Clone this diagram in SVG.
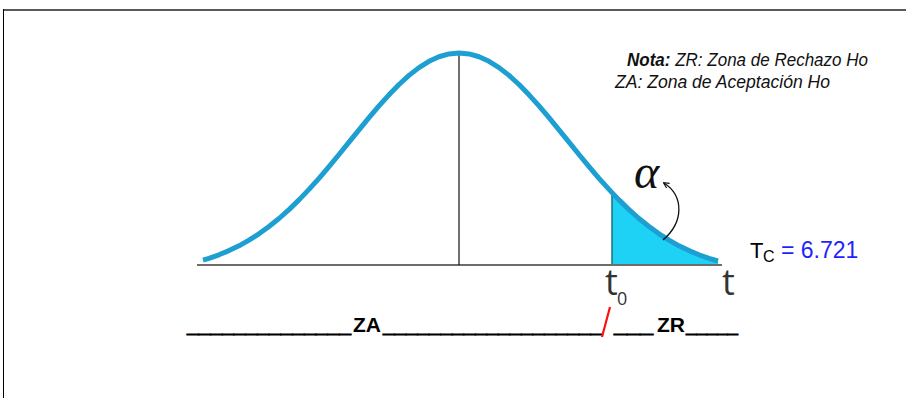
<svg xmlns="http://www.w3.org/2000/svg" width="906" height="398" viewBox="0 0 906 398">
<style>
.sans{font-family:"Liberation Sans",Arial,sans-serif}
.note{font-family:"Liberation Sans",Arial,sans-serif;font-size:18px;font-style:italic;fill:#111}
.tl{font-family:"Open Sans","Liberation Sans",sans-serif;fill:#333}
.bot{font-family:"Liberation Sans",Arial,sans-serif;font-size:21px;font-weight:bold;fill:#000}
.us{stroke:#000;stroke-width:1}
</style>
<defs>
<marker id="ah" viewBox="0 0 10 10" refX="8" refY="5" markerWidth="7" markerHeight="7" orient="auto-start-reverse" markerUnits="userSpaceOnUse">
<path d="M1,1 L9,5 L1,9" fill="none" stroke="#111" stroke-width="1.6"/>
</marker>
</defs>
<rect width="906" height="398" fill="#fff"/>
<g id="frame">
<line x1="3" y1="10" x2="906" y2="10" stroke="#5a5a5a" stroke-width="2"/>
<line x1="3.5" y1="9" x2="3.5" y2="398" stroke="#000" stroke-width="1"/>
</g>
<g id="shade">
<path d="M612,192.6 L619,199.9 L629,209.6 L639,218.5 L649,226.5 L659,233.8 L669,240.1 L679,245.8 L689,250.6 L699,254.8 L709,258.3 L718,261 L718,265 L612,265 Z" fill="#1dd2f4"/>
<line x1="612" y1="193" x2="612" y2="265" stroke="#1d6f7c" stroke-width="1.5"/>
</g>
<g id="axis">
<line x1="197" y1="265" x2="722" y2="265" stroke="#6d6d6d" stroke-width="2"/>
<line x1="459" y1="54" x2="459" y2="265" stroke="#111" stroke-width="1.2"/>
</g>
<g id="curve">
<path d="M203,260.1 L209,258.3 L219,254.8 L229,250.6 L239,245.8 L249,240.1 L259,233.8 L269,226.5 L279,218.5 L289,209.6 L299,199.9 L309,189.4 L319,178.3 L329,166.6 L339,154.5 L349,142.2 L359,129.9 L369,117.7 L379,105.9 L389,94.8 L399,84.5 L409,75.4 L419,67.6 L429,61.3 L439,56.75 L449,53.9 L459,53 L469,53.9 L479,56.75 L489,61.3 L499,67.6 L509,75.4 L519,84.5 L529,94.8 L539,105.9 L549,117.7 L559,129.9 L569,142.2 L579,154.5 L589,166.6 L599,178.3 L609,189.4 L612,192.6 L619,199.9 L629,209.6 L639,218.5 L649,226.5 L659,233.8 L669,240.1 L679,245.8 L689,250.6 L699,254.8 L709,258.3 L718,261" fill="none" stroke="#1e9fd2" stroke-width="5" stroke-linejoin="round"/>
</g>
<g id="connectors">
<path d="M663,240 C684,222 684,196 664,183" fill="none" stroke="#111" stroke-width="1.3" marker-end="url(#ah)"/>
</g>
<g id="alpha">
<text x="634" y="188" font-family="'Liberation Serif','Times New Roman',serif" font-style="italic" font-size="48" fill="#111">α</text>
</g>
<g id="note">
<text class="note" x="627" y="66" textLength="241" lengthAdjust="spacingAndGlyphs"><tspan font-weight="bold">Nota:</tspan> ZR: Zona de Rechazo Ho</text>
<text class="note" x="615" y="88" textLength="215" lengthAdjust="spacingAndGlyphs">ZA: Zona de Aceptación Ho</text>
</g>
<g id="tlabels">
<text class="tl" x="605" y="295" style="font-size:36px">t</text>
<text class="tl" x="617" y="305" style="font-size:18px">0</text>
<text class="tl" x="722" y="295" style="font-size:36px">t</text>
</g>
<g id="tc">
<text class="sans" x="750" y="258" font-size="22" fill="#000">T</text>
<text class="sans" x="763" y="262" font-size="16" fill="#000">C</text>
<text class="sans" x="781" y="258" font-size="23" fill="#1f1fff">= 6.721</text>
</g>
<g id="zones">
<text class="bot us" x="187" y="332" textLength="164" lengthAdjust="spacingAndGlyphs">______________</text>
<text class="bot" x="353" y="332">ZA</text>
<text class="bot us" x="383" y="332" textLength="219" lengthAdjust="spacingAndGlyphs">___________________</text>
<line x1="610" y1="307" x2="602" y2="337" stroke="#ff1010" stroke-width="2.2"/>
<text class="bot us" x="614" y="332" textLength="39" lengthAdjust="spacingAndGlyphs">___</text>
<text class="bot" x="657" y="332">ZR</text>
<text class="bot us" x="686" y="332" textLength="52" lengthAdjust="spacingAndGlyphs">_____</text>
</g>
</svg>
